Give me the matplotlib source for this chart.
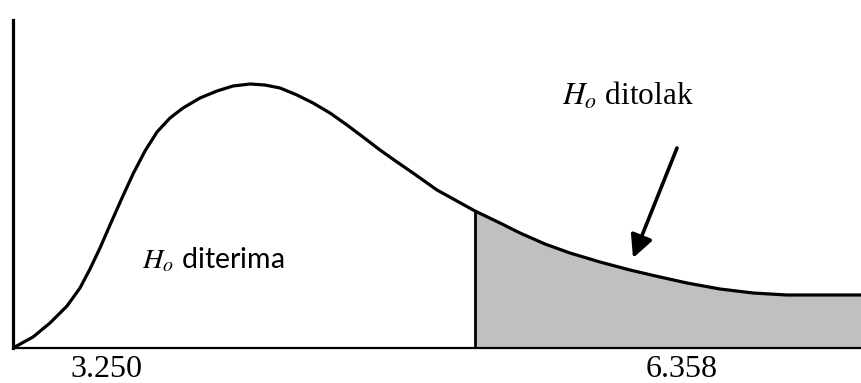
import matplotlib.pyplot as plt

plt.rcParams['mathtext.fontset'] = 'stix'

# titik-titik kurva (x, tinggi di atas sumbu)
curve_x = [13, 33, 50, 67, 80, 90, 100, 110, 122, 133, 145, 157, 170, 183, 200, 217,
           233, 250, 265, 280, 297, 313, 330, 347, 363, 380, 397, 413, 437, 475,
           500, 520, 545, 570, 600, 630, 660, 687, 720, 753, 787, 820, 861]
curve_y = [0, 11, 25, 42, 60, 79, 100, 123, 150, 174, 197, 216, 230, 240, 250, 257,
           262, 264, 263, 260, 253, 245, 235, 223, 211, 198, 186, 175, 158, 137,
           125, 115, 104, 95, 86, 78, 71, 65, 59, 55, 53, 53, 53]

x_crit = 475          # batas daerah penolakan
tick_pos = [106, 682]
tick_labels = ["3.250", "6.358"]

fig = plt.figure(figsize=(8.61, 3.83), dpi=100)
ax = fig.add_axes([13/861, 35/383, (861-13)/861, (348-20)/383])

ax.plot(curve_x, curve_y, color="black", lw=2.3, solid_joinstyle="round")

# daerah ditolak (abu-abu)
rx = [x for x in curve_x if x >= x_crit]
ry = [y for x, y in zip(curve_x, curve_y) if x >= x_crit]
ax.fill_between(rx, 0, ry, color="#c0c0c0", lw=0)
ax.plot([x_crit, x_crit], [0, ry[0]], color="black", lw=2)

ax.set_xlim(13, 861)
ax.set_ylim(0, 328)
for s in ["top", "right"]:
    ax.spines[s].set_visible(False)
ax.spines["left"].set_linewidth(2.3)
ax.spines["bottom"].set_linewidth(1.6)
ax.set_yticks([])
ax.set_xticks(tick_pos, tick_labels, family="Liberation Serif", fontsize=23)
ax.tick_params(axis="x", length=0, pad=5)

ax.text(142, 80, r"$H_o$ diterima", family="Lato", fontsize=20.5,
        ha="left", va="baseline")
ax.text(562, 243, r"$H_o$ ditolak", family="Liberation Serif", fontsize=22.5,
        ha="left", va="baseline")
ax.annotate("", xy=(633, 90), xytext=(677, 200),
            arrowprops=dict(arrowstyle="-|>", color="black", lw=2.6,
                            mutation_scale=34, shrinkA=0, shrinkB=0))

fig.savefig("out.png", dpi=100)
